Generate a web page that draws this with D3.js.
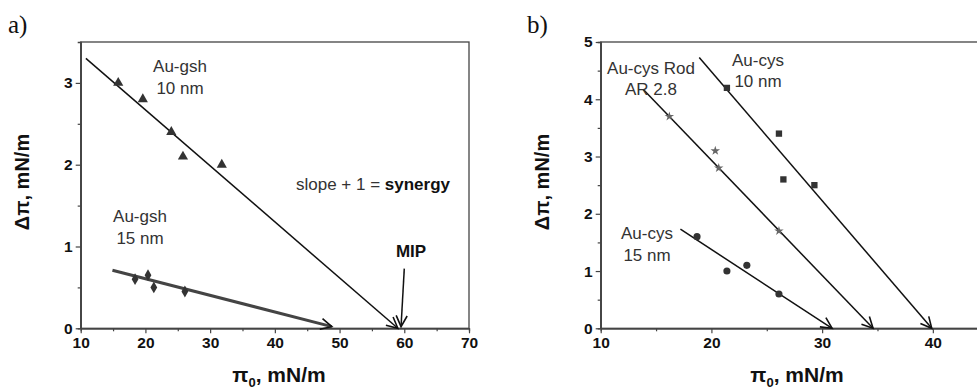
<!DOCTYPE html>
<html>
<head>
<meta charset="utf-8">
<script src="https://cdn.jsdelivr.net/npm/d3@7"></script>
<style>
  body { margin: 0; background: #fff; }
  svg { display: block; font-family: 'Liberation Sans', Arial, sans-serif; }
</style>
</head>
<body>
<div class="container"></div>
<script>
// panel a: Au-gsh
const gsh10X = [15.8, 19.6, 24.0, 25.8, 31.8];
const gsh10Y = [3.0, 2.8, 2.4, 2.1, 2.0];
const gsh15X = [18.4, 20.4, 21.3, 26.1];
const gsh15Y = [0.6, 0.65, 0.5, 0.45];
const gsh10Fit = [[10.8, 3.3], [59.0, 0]];
const gsh15Fit = [[14.9, 0.71], [48.8, 0.02]];
const mipArrow = [[60.0, 0.73], [59.5, 0.02]];
const aTicksX = [10, 20, 30, 40, 50, 60, 70];
const aTicksY = [0, 1, 2, 3];

// panel b: Au-cys
const cys10X = [21.4, 26.1, 26.5, 29.3];
const cys10Y = [4.2, 3.4, 2.6, 2.5];
const rodX = [16.2, 20.35, 20.66, 26.1];
const rodY = [3.7, 3.1, 2.8, 1.7];
const cys15X = [18.7, 21.4, 23.2, 26.1];
const cys15Y = [1.6, 1.0, 1.1, 0.6];
const cys10Fit = [[18.9, 4.73], [39.9, 0]];
const rodFit = [[13.85, 4.17], [34.6, 0]];
const cys15Fit = [[17.2, 1.73], [30.9, 0]];
const bTicksX = [10, 20, 30, 40];
const bTicksY = [0, 1, 2, 3, 4, 5];

const width = 977;
const height = 389;

const svg = d3
  .select('.container')
  .append('svg')
  .attr('width', width)
  .attr('height', height);

const defs = svg.append('defs');
defs
  .append('marker')
  .attr('id', 'vhead')
  .attr('viewBox', '-12 -7 14 14')
  .attr('refX', 0)
  .attr('refY', 0)
  .attr('markerWidth', 14)
  .attr('markerHeight', 14)
  .attr('markerUnits', 'userSpaceOnUse')
  .attr('orient', 'auto')
  .append('path')
  .attr('d', 'M-11,-5.5 L0,0 L-11,5.5')
  .attr('fill', 'none')
  .attr('stroke', '#111')
  .attr('stroke-width', 1.6);

const line = d3.line();

function panel(opts) {
  const x = d3.scaleLinear().domain(opts.xDomain).range(opts.xRange);
  const y = d3.scaleLinear().domain(opts.yDomain).range([328.3, 42]);
  const g = svg.append('g');
  const clipId = 'clip' + opts.name;
  defs
    .append('clipPath')
    .attr('id', clipId)
    .append('rect')
    .attr('x', opts.xRange[0])
    .attr('y', 0)
    .attr('width', width - opts.xRange[0])
    .attr('height', height);

  // frame
  g.append('rect')
    .attr('x', x.range()[0])
    .attr('y', y.range()[1])
    .attr('width', x.range()[1] - x.range()[0])
    .attr('height', y.range()[0] - y.range()[1])
    .attr('fill', 'none')
    .attr('stroke', '#444')
    .attr('stroke-width', 1.3);

  const fmt = d3.format('d');
  const xAxis = d3.axisBottom(x).tickValues(opts.ticksX).tickFormat(fmt).tickSize(5).tickSizeOuter(0).tickPadding(4);
  const xMinor = d3.axisBottom(x).tickValues(opts.ticksX.slice(0, -1).map((d) => d + 5)).tickSize(3).tickFormat('');
  const yAxis = d3.axisLeft(y).tickValues(opts.ticksY).tickFormat(fmt).tickSize(5).tickSizeOuter(0).tickPadding(3);
  const yMinor = d3.axisLeft(y).tickValues(opts.ticksY.map((d) => d + 0.5).filter((d) => d < opts.yDomain[1])).tickSize(3).tickFormat('');

  [
    [xAxis, `translate(0,${y.range()[0]})`],
    [xMinor, `translate(0,${y.range()[0]})`],
    [yAxis, `translate(${x.range()[0]},0)`],
    [yMinor, `translate(${x.range()[0]},0)`],
  ].forEach(([ax, tr]) => {
    const a = g.append('g').attr('transform', tr).call(ax);
    a.attr('font-size', null).attr('font-family', null);
    a.select('.domain').attr('stroke', '#444').attr('stroke-width', 1.3);
    a.selectAll('.tick line').attr('stroke', '#444').attr('stroke-width', 1.2);
    a.selectAll('text')
      .style('font-size', '15.5px')
      .style('font-weight', 'bold')
      .attr('fill', '#111');
  });

  // axis titles
  g.append('text')
    .attr('transform', `translate(${opts.yLabelX},182) rotate(-90)`)
    .attr('text-anchor', 'middle')
    .style('font-size', '20px')
    .attr('font-weight', 'bold')
    .attr('fill', '#111')
    .text('Δπ, mN/m');

  const xl = g
    .append('text')
    .attr('x', opts.xLabelX)
    .attr('y', 382)
    .attr('text-anchor', 'middle')
    .style('font-size', '21px')
    .attr('font-weight', 'bold')
    .attr('fill', '#111');
  xl.append('tspan').text('π');
  xl.append('tspan').style('font-size', '13px').attr('dy', 5).text('0');
  xl.append('tspan').attr('dy', -5).text(', mN/m');

  // panel letter
  g.append('text')
    .attr('x', opts.letterX)
    .attr('y', 33)
    .attr('font-family', "'Liberation Serif', 'Times New Roman', serif")
    .style('font-size', '25px')
    .attr('fill', '#111')
    .text(opts.letter);

  const plot = g.append('g').attr('clip-path', `url(#${clipId})`);

  opts.lines.forEach((l) => {
    plot
      .append('path')
      .attr('d', line(l.pts.map((p) => [x(p[0]), y(p[1])])))
      .attr('fill', 'none')
      .attr('stroke', l.color || '#111')
      .attr('stroke-width', l.w || 1.5)
      .attr('marker-end', 'url(#vhead)');
  });

  opts.series.forEach((s) => {
    plot
      .selectAll(null)
      .data(s.xs.map((v, i) => [v, s.ys[i]]))
      .join('path')
      .attr('transform', (d) => `translate(${x(d[0])},${y(d[1])})`)
      .attr('d', d3.symbol().type(s.type).size(s.size))
      .attr('fill', s.color || '#333');
  });

  opts.labels.forEach((t) => {
    const txt = g
      .append('text')
      .attr('x', t.x)
      .attr('y', t.y)
      .attr('text-anchor', 'middle')
      .style('font-size', '17px')
      .attr('fill', '#333');
    t.parts.forEach((p) => {
      txt.append('tspan').attr('font-weight', p.bold ? 'bold' : 'normal').attr('fill', p.bold ? '#111' : '#333').text(p.s);
    });
  });

  return { x, y };
}

panel({
  name: 'a',
  letter: 'a)',
  letterX: 8,
  xDomain: [10, 70],
  xRange: [80.7, 469],
  yDomain: [0, 3.5],
  ticksX: aTicksX,
  ticksY: aTicksY,
  yLabelX: 29,
  xLabelX: 279,
  lines: [
    { pts: gsh10Fit },
    { pts: gsh15Fit, color: '#444', w: 3 },
    { pts: mipArrow, w: 1.5 },
  ],
  series: [
    { xs: gsh10X, ys: gsh10Y, type: d3.symbolTriangle, size: 45 },
    { xs: gsh15X, ys: gsh15Y, type: d3.symbolDiamond, size: 40 },
  ],
  labels: [
    { x: 180, y: 72, parts: [{ s: 'Au-gsh' }] },
    { x: 180, y: 94, parts: [{ s: '10 nm' }] },
    { x: 140, y: 222, parts: [{ s: 'Au-gsh' }] },
    { x: 140, y: 244, parts: [{ s: '15 nm' }] },
    { x: 373, y: 190, parts: [{ s: 'slope + 1 = ' }, { s: 'synergy', bold: true }] },
    { x: 411, y: 257, parts: [{ s: 'MIP', bold: true }] },
  ],
});

panel({
  name: 'b',
  letter: 'b)',
  letterX: 527,
  xDomain: [10, 45],
  xRange: [600.7, 988.2],
  yDomain: [0, 5],
  ticksX: bTicksX,
  ticksY: bTicksY,
  yLabelX: 549,
  xLabelX: 797,
  lines: [{ pts: cys10Fit }, { pts: rodFit }, { pts: cys15Fit }],
  series: [
    { xs: cys10X, ys: cys10Y, type: d3.symbolSquare, size: 40 },
    { xs: rodX, ys: rodY, type: d3.symbolStar, size: 28, color: '#666' },
    { xs: cys15X, ys: cys15Y, type: d3.symbolCircle, size: 40 },
  ],
  labels: [
    { x: 758, y: 66, parts: [{ s: 'Au-cys' }] },
    { x: 758, y: 87, parts: [{ s: '10 nm' }] },
    { x: 651, y: 74, parts: [{ s: 'Au-cys Rod' }] },
    { x: 651, y: 95, parts: [{ s: 'AR 2.8' }] },
    { x: 647, y: 239, parts: [{ s: 'Au-cys' }] },
    { x: 647, y: 261, parts: [{ s: '15 nm' }] },
  ],
});
</script>
</body>
</html>
